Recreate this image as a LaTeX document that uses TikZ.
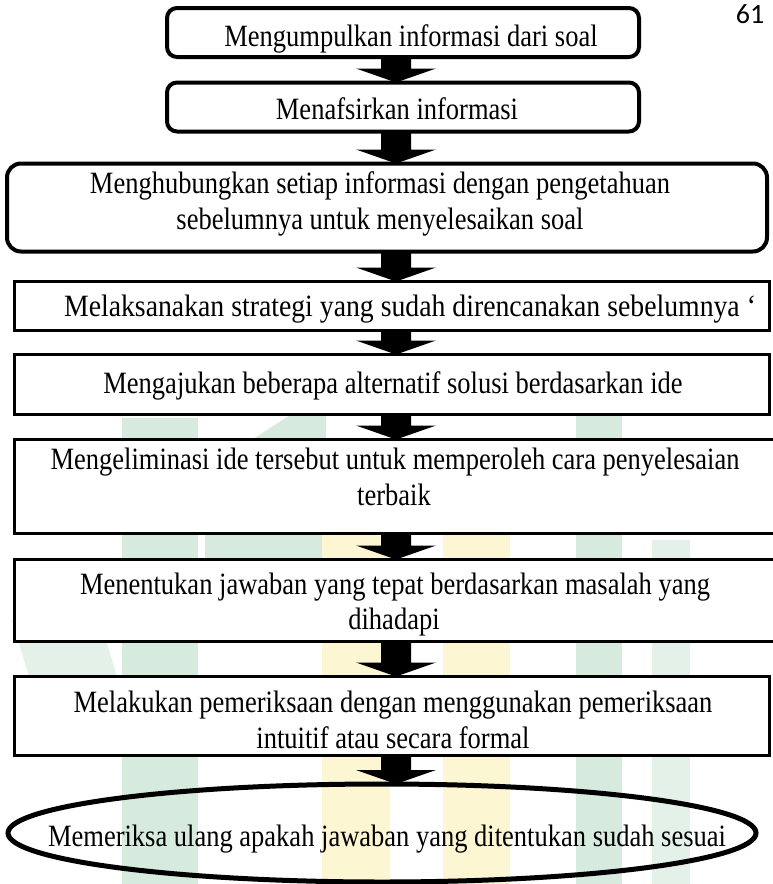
\documentclass[tikz,border=0pt]{standalone}
\usepackage{fontspec}
\usepackage{graphicx}
\setmainfont{Liberation Serif}
\newfontfamily\pagefont{Carlito}
\usetikzlibrary{calc,shapes.geometric}
\definecolor{wmgreen}{RGB}{214,234,222}
\definecolor{wmgreenlt}{RGB}{228,241,233}
\definecolor{wmyellow}{RGB}{252,246,210}
\tikzset{
  rbox/.style={draw, line width=4pt, rounded corners=10pt, fill=white, inner sep=0pt, outer sep=0pt},
  sbox/.style={draw, line width=3pt, fill=white, inner sep=0pt, outer sep=0pt},
  obox/.style={draw, ellipse, line width=5pt, inner sep=0pt, outer sep=0pt},
  txt/.style={font=\fontsize{31}{36}\selectfont, inner sep=0pt, anchor=base},
}
\newcommand\sq[1]{\scalebox{0.855}[1]{#1}}
\newcommand\blockarr[2]{%
  \path (#1.south -| ax) coordinate (s) (#2.north -| ax) coordinate (t);
  \fill ($(s)+(-15,0)$) -- ($(t)+(-15,-14)$) -- ($(t)+(-40,-14)$) -- (t)
    -- ($(t)+(40,-14)$) -- ($(t)+(15,-14)$) -- ($(s)+(15,0)$) -- cycle;}
\begin{document}
\begin{tikzpicture}[x=1pt,y=-1pt]
\useasboundingbox (0,0) rectangle (773,884);
\fill[white] (0,0) rectangle (773,884);
% faint watermark in the background
\fill[wmgreen] (122,418) rectangle (198,884);
\fill[wmgreen] (205,560) -- (205,470) -- (298,410) -- (326,410) -- (326,560) -- cycle;
\fill[wmgreenlt] (12,620) -- (100,620) -- (124,700) -- (36,700) -- cycle;
\fill[wmyellow] (322,530) rectangle (390,884);
\fill[wmyellow] (443,530) rectangle (510,884);
\fill[wmgreen] (576,400) rectangle (622,884);
\fill[wmgreenlt] (652,540) rectangle (690,884);
\coordinate (ax) at (396,0);
% boxes
\node[rbox, minimum width=472pt, minimum height=49pt] (b1) at (403,32.5) {};
\node[rbox, minimum width=472pt, minimum height=49pt] (b2) at (403,107) {};
\node[rbox, rounded corners=14pt, minimum width=760pt, minimum height=88pt] (b3) at (387,207.5) {};
\node[sbox, minimum width=755pt, minimum height=49pt] (b4) at (392,306) {};
\node[sbox, minimum width=755pt, minimum height=60pt] (b5) at (392,384.5) {};
\node[sbox, minimum width=780pt, minimum height=94pt] (b6) at (404.5,486.5) {};
\node[sbox, minimum width=780pt, minimum height=82pt] (b7) at (404.5,600.5) {};
\node[sbox, minimum width=755pt, minimum height=79pt] (b8) at (392,716) {};
\node[obox, minimum width=748pt, minimum height=98pt] (e) at (382,833) {};
% texts
\node[txt] (t1) at (411,46) {\sq{Mengumpulkan informasi dari soal}};
\node[txt] (t2) at (397,119) {\sq{Menafsirkan informasi}};
\node[txt] (t3a) at (380,193) {\sq{Menghubungkan setiap informasi dengan pengetahuan}};
\node[txt] (t3b) at (380,229) {\sq{sebelumnya untuk menyelesaikan soal}};
\node[txt] (t4) at (410,316) {\scalebox{0.895}[1]{Melaksanakan strategi yang sudah direncanakan sebelumnya ‘}};
\node[txt] (t5) at (393,393) {\sq{Mengajukan beberapa alternatif solusi berdasarkan ide}};
\node[txt] (t6a) at (395,469) {\sq{Mengeliminasi ide tersebut untuk memperoleh cara penyelesaian}};
\node[txt] (t6b) at (394,505) {\sq{terbaik}};
\node[txt] (t7a) at (395,594) {\sq{Menentukan jawaban yang tepat berdasarkan masalah yang}};
\node[txt] (t7b) at (394,629) {\sq{dihadapi}};
\node[txt] (t8a) at (393,712) {\sq{Melakukan pemeriksaan dengan menggunakan pemeriksaan}};
\node[txt] (t8b) at (393,748) {\sq{intuitif atau secara formal}};
\node[txt] (t9) at (387,846) {\sq{Memeriksa ulang apakah jawaban yang ditentukan sudah sesuai}};
\node[font=\pagefont\fontsize{28}{30}\selectfont, inner sep=0pt, anchor=base] (pg) at (750,23) {61};
% arrows
\blockarr{b1}{b2}
\blockarr{b2}{b3}
\blockarr{b3}{b4}
\blockarr{b4}{b5}
\blockarr{b5}{b6}
\blockarr{b6}{b7}
\blockarr{b7}{b8}
\blockarr{b8}{e}
\end{tikzpicture}
\end{document}
